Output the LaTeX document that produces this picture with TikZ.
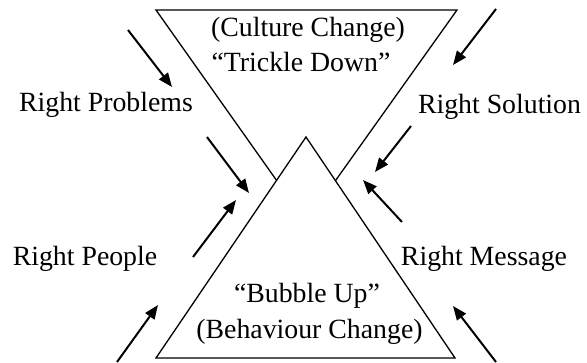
\documentclass[tikz,border=0pt]{standalone}
\usepackage{fontspec}
\setmainfont{Liberation Serif}
\usetikzlibrary{arrows.meta}
\begin{document}
\begin{tikzpicture}[x=1pt,y=-1pt,
  lbl/.style={font=\fontsize{27.8}{30}\selectfont, inner sep=0pt, anchor=base},
  tri/.style={line width=1.3pt, line join=miter},
  arr/.style={line width=2pt, -{Triangle[length=14pt,width=11pt]}}]
\useasboundingbox (0,0) rectangle (587,362);
% upper inverted triangle
\draw[tri] (156,10) -- (457,10) -- (306,222) -- cycle;
% lower triangle covers the upper apex
\filldraw[tri, fill=white] (306,137) -- (455,358) -- (156,358) -- cycle;
% texts
\node[lbl] (culture) at (308,36.7) {(Culture Change)};
\node[lbl] (trickle) at (301,71.7) {“Trickle Down”};
\node[lbl] (bubble) at (307,302) {“Bubble Up”};
\node[lbl] (behav) at (309.5,338) {(Behaviour Change)};
\node[lbl] (prob) at (106,111.7) {Right Problems};
\node[lbl] (people) at (85,265) {Right People};
\node[lbl] (sol) at (499.5,113) {Right Solution};
\node[lbl] (msg) at (484,265) {Right Message};
% arrow endpoints
\coordinate (a1s) at (128,30);  \coordinate (a1e) at (172,87);
\coordinate (a2s) at (207,137); \coordinate (a2e) at (249,193);
\coordinate (a3s) at (193,257); \coordinate (a3e) at (236,200);
\coordinate (a4s) at (117,362); \coordinate (a4e) at (158,305);
\coordinate (b1s) at (496,9);   \coordinate (b1e) at (453,65);
\coordinate (b2s) at (411,126); \coordinate (b2e) at (375,172);
\coordinate (b3s) at (402,222); \coordinate (b3e) at (363,180);
\coordinate (b4s) at (496,362); \coordinate (b4e) at (453,306);
\draw[arr] (a1s) -- (a1e);
\draw[arr] (a2s) -- (a2e);
\draw[arr] (a3s) -- (a3e);
\draw[arr] (a4s) -- (a4e);
\draw[arr] (b1s) -- (b1e);
\draw[arr] (b2s) -- (b2e);
\draw[arr] (b3s) -- (b3e);
\draw[arr] (b4s) -- (b4e);
\end{tikzpicture}
\end{document}
